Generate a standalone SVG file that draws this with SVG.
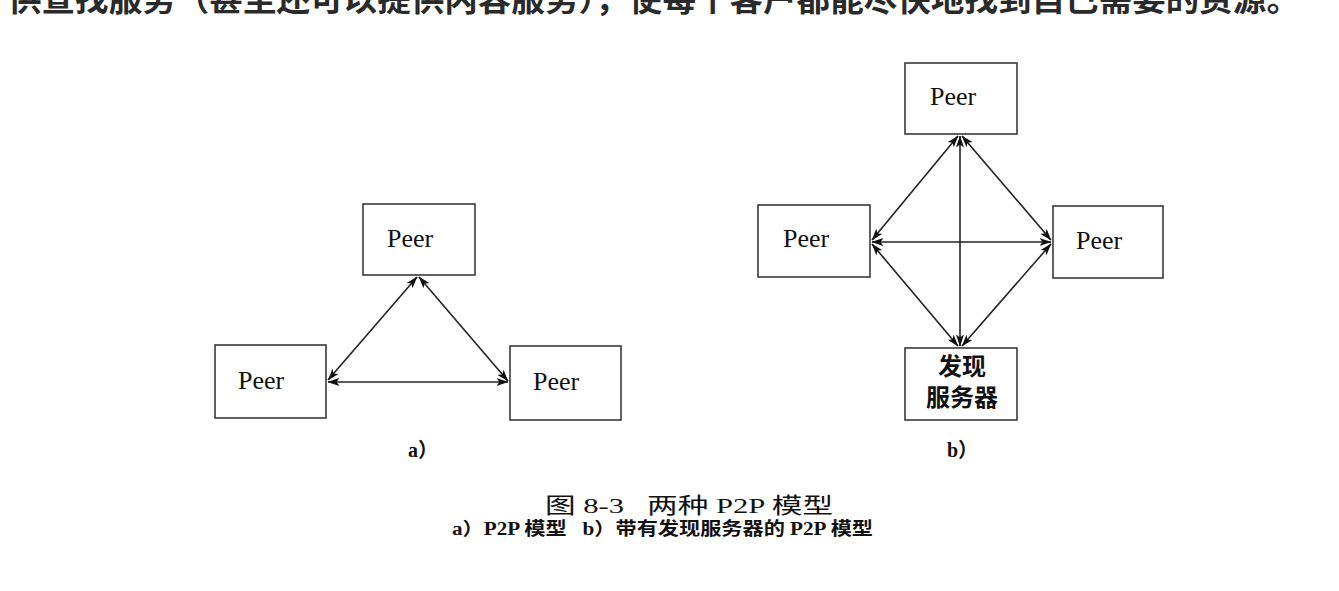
<svg xmlns="http://www.w3.org/2000/svg" width="1339" height="591" viewBox="0 0 1339 591">
<style>
.box{fill:#fff;stroke:#3a3a3a;stroke-width:1.6}
.peer{font-family:"Liberation Serif","Noto Sans CJK SC",serif;font-size:26px;fill:#111}
.cjk{font-family:"Noto Sans CJK SC",sans-serif;font-size:24px;font-weight:bold;fill:#111}
.cap{font-family:"Liberation Serif","Noto Sans CJK SC",serif;fill:#111}
.edge{stroke:#222;stroke-width:1.6;fill:none;marker-start:url(#ah);marker-end:url(#ah)}
</style>
<defs>
<marker id="ah" viewBox="0 0 12 8" refX="11.5" refY="4" markerWidth="12" markerHeight="8" markerUnits="userSpaceOnUse" orient="auto-start-reverse">
<path d="M0,0 L12,4 L0,8 L3,4 Z" fill="#111"/>
</marker>
</defs>
<rect width="1339" height="591" fill="#fff"/>
<text x="8" y="11" style="font-family:'Noto Sans CJK SC',sans-serif;font-weight:bold" font-size="32" textLength="1292" lengthAdjust="spacingAndGlyphs" fill="#2a2a2a">供查找服务（甚至还可以提供内容服务），使每个客户都能尽快地找到自己需要的资源。</text>

<g id="connectors">
<line class="edge" x1="417" y1="277" x2="328" y2="380"/>
<line class="edge" x1="419" y1="277" x2="508" y2="381"/>
<line class="edge" x1="328" y1="382" x2="508" y2="382"/>
<line class="edge" x1="958" y1="136" x2="872" y2="240"/>
<line class="edge" x1="962" y1="136" x2="1051" y2="240"/>
<line class="edge" x1="960" y1="136" x2="960" y2="346"/>
<line class="edge" x1="872" y1="242" x2="1051" y2="242"/>
<line class="edge" x1="872" y1="244" x2="958" y2="346"/>
<line class="edge" x1="1051" y1="244" x2="962" y2="346"/>
</g>

<g id="a-top"><rect class="box" x="363" y="204" width="112" height="71"/><text class="peer" x="387" y="247">Peer</text></g>
<g id="a-left"><rect class="box" x="215" y="345" width="111" height="73"/><text class="peer" x="238" y="389">Peer</text></g>
<g id="a-right"><rect class="box" x="510" y="346" width="111" height="74"/><text class="peer" x="533" y="390">Peer</text></g>

<g id="b-top"><rect class="box" x="905" y="63" width="112" height="71"/><text class="peer" x="930" y="105">Peer</text></g>
<g id="b-left"><rect class="box" x="758" y="205" width="112" height="72"/><text class="peer" x="783" y="247">Peer</text></g>
<g id="b-right"><rect class="box" x="1053" y="206" width="110" height="72"/><text class="peer" x="1076" y="249">Peer</text></g>
<g id="b-server"><rect class="box" x="905" y="348" width="112" height="72"/><text class="cjk" x="938" y="375">发现</text><text class="cjk" x="926" y="406">服务器</text></g>

<text class="cap" x="408" y="457" font-size="20" font-weight="bold">a）</text>
<text class="cap" x="947" y="457" font-size="20" font-weight="bold">b）</text>
<text class="cap" x="545" y="513" font-size="22" textLength="288" lengthAdjust="spacingAndGlyphs" xml:space="preserve">图 8-3   两种 P2P 模型</text>
<text class="cap" x="452" y="535" font-size="18" font-weight="bold" textLength="421" lengthAdjust="spacingAndGlyphs" xml:space="preserve">a）P2P 模型   b）带有发现服务器的 P2P 模型</text>
</svg>
